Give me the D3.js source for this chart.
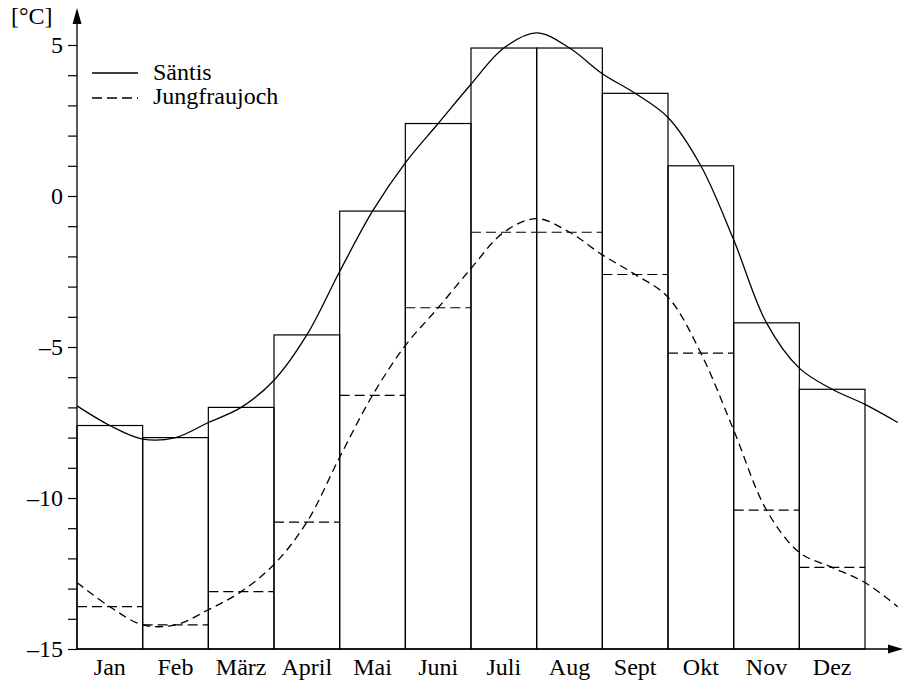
<!DOCTYPE html>
<html>
<head>
<meta charset="utf-8">
<script src="https://cdn.jsdelivr.net/npm/d3@7"></script>
<style>
  body { margin: 0; background: #fff; }
</style>
</head>
<body>
<svg width="903" height="682"></svg>
<script>
var months = ["Jan", "Feb", "März", "April", "Mai", "Juni", "Juli", "Aug", "Sept", "Okt", "Nov", "Dez"]

// monthly means [°C]
var saentis = [-7.6, -8.0, -7.0, -4.6, -0.5, 2.4, 4.9, 4.9, 3.4, 1.0, -4.2, -6.4]
var jungfrau = [-13.6, -14.2, -13.1, -10.8, -6.6, -3.7, -1.2, -1.2, -2.6, -5.2, -10.4, -12.3]

// smoothed curve read at the month boundaries (0..12) plus the tail at 12.5
var saentisEdges = [-6.95, -8.05, -7.5, -6.1, -2.5, 1.1, 3.7, 5.4, 4.05, 2.6, -1.45, -5.7, -6.9]
var jungfrauEdges = [-12.8, -14.2, -13.7, -12.2, -8.65, -4.95, -2.4, -0.75, -1.95, -3.35, -7.75, -11.8, -12.8]
var saentisTail = -7.5
var jungfrauTail = -13.6

var yTicks = [-15, -10, -5, 0, 5]

var serif = '"Liberation Serif", "Times New Roman", Times, "DejaVu Serif", serif'
var fontSize = "24px"

var svg = d3.select("svg"),
    width = +svg.attr("width"),
    height = +svg.attr("height");

var x = d3.scaleLinear().domain([0, 12]).range([77, 865])
var y = d3.scaleLinear().domain([-15, 5]).range([649, 45])

// build curve points: edge, centre, edge, centre ...
var curvePoints = (edges, centres, tail) => {
    var pts = []
    edges.forEach((v, i) => {
        pts.push([i, v])
        if (i < centres.length) pts.push([i + 0.5, centres[i]])
    })
    pts.push([12.5, tail])
    return pts
}

var line = d3.line()
    .x(d => x(d[0]))
    .y(d => y(d[1]))
    .curve(d3.curveCatmullRom.alpha(0.5))

// bars (Säntis)
svg.append("g")
    .selectAll("rect")
    .data(saentis)
    .enter().append("rect")
    .attr("x", (d, i) => x(i))
    .attr("width", x(1) - x(0))
    .attr("y", d => y(d))
    .attr("height", d => y(-15) - y(d))
    .attr("fill", "none")
    .attr("stroke", "#000")
    .attr("stroke-width", 1.2)

// Jungfraujoch monthly levels
svg.append("g")
    .selectAll("line")
    .data(jungfrau)
    .enter().append("line")
    .attr("x1", (d, i) => x(i))
    .attr("x2", (d, i) => x(i + 1))
    .attr("y1", d => y(d))
    .attr("y2", d => y(d))
    .attr("stroke", "#000")
    .attr("stroke-width", 1.2)
    .attr("stroke-dasharray", "10,5")

// curves
svg.append("path")
    .attr("d", line(curvePoints(saentisEdges, saentis, saentisTail)))
    .attr("fill", "none")
    .attr("stroke", "#000")
    .attr("stroke-width", 1.3)

svg.append("path")
    .attr("d", line(curvePoints(jungfrauEdges, jungfrau, jungfrauTail)))
    .attr("fill", "none")
    .attr("stroke", "#000")
    .attr("stroke-width", 1.3)
    .attr("stroke-dasharray", "8,5")

// y axis
var yAxis = d3.axisLeft(y)
    .tickValues(d3.range(-15, 6, 1))
    .tickSize(9)
    .tickPadding(5)
    .tickFormat(d => yTicks.includes(d) ? (d < 0 ? "\u2013" + (-d) : "" + d) : "")

var gy = svg.append("g")
    .attr("transform", "translate(" + x(0) + ",0)")
    .call(yAxis)
gy.select(".domain").remove()
gy.selectAll("line").attr("stroke", "#000").attr("stroke-width", 1.2)
gy.selectAll("text")
    .style("font-family", serif)
    .style("font-size", fontSize)
    .attr("fill", "#000")

svg.append("line")
    .attr("x1", x(0)).attr("x2", x(0))
    .attr("y1", y(-15)).attr("y2", 20)
    .attr("stroke", "#000").attr("stroke-width", 1.3)
svg.append("path")
    .attr("d", "M" + (x(0) - 4.5) + ",24L" + x(0) + ",8L" + (x(0) + 4.5) + ",24Z")
    .attr("fill", "#000")

svg.append("text")
    .attr("x", 11).attr("y", 24)
    .style("font-family", serif)
    .style("font-size", fontSize)
    .text("[°C]")

// x axis
svg.append("line")
    .attr("x1", x(0)).attr("x2", 892)
    .attr("y1", y(-15)).attr("y2", y(-15))
    .attr("stroke", "#000").attr("stroke-width", 1.3)
svg.append("path")
    .attr("d", "M888," + (y(-15) - 4.5) + "L903," + y(-15) + "L888," + (y(-15) + 4.5) + "Z")
    .attr("fill", "#000")

svg.append("g")
    .selectAll("text")
    .data(months)
    .enter().append("text")
    .attr("x", (d, i) => x(i + 0.5))
    .attr("y", 675)
    .attr("text-anchor", "middle")
    .style("font-family", serif)
    .style("font-size", fontSize)
    .text(d => d)

// legend
var legend = svg.append("g")
legend.append("line")
    .attr("x1", 92).attr("x2", 138).attr("y1", 73).attr("y2", 73)
    .attr("stroke", "#000").attr("stroke-width", 1.3)
legend.append("line")
    .attr("x1", 92).attr("x2", 138).attr("y1", 98).attr("y2", 98)
    .attr("stroke", "#000").attr("stroke-width", 1.3)
    .attr("stroke-dasharray", "10,5")
legend.selectAll("text")
    .data(["Säntis", "Jungfraujoch"])
    .enter().append("text")
    .attr("x", 153)
    .attr("y", (d, i) => 80 + i * 24)
    .style("font-family", serif)
    .style("font-size", fontSize)
    .text(d => d)
</script>
</body>
</html>
